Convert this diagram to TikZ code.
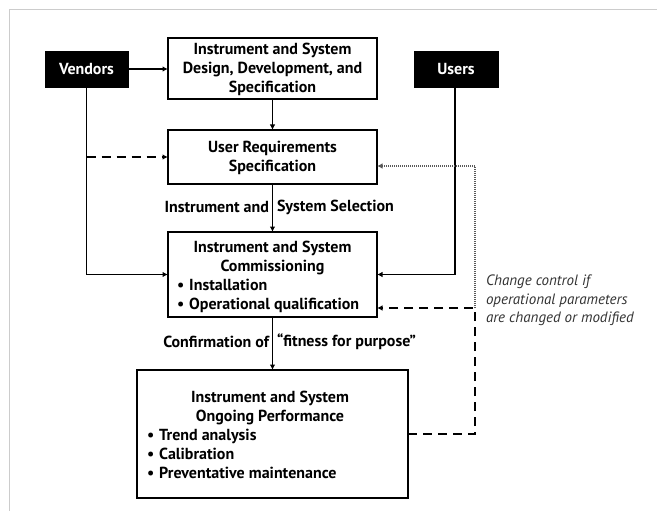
\documentclass[tikz,border=0pt]{standalone}
\usepackage{fontspec}
\setmainfont{PT Sans}
\usetikzlibrary{arrows.meta,calc}
\begin{document}
\begin{tikzpicture}[x=1pt,y=-1pt,
  every node/.style={inner sep=0pt, outer sep=0pt},
  txt/.style={font=\bfseries\fontsize{16}{19}\selectfont, align=center},
  blt/.style={font=\bfseries\fontsize{16}{19}\selectfont, align=left},
  box/.style={draw, line width=1.9pt, minimum width=209pt},
  bigbox/.style={draw, line width=2.8pt, minimum width=271pt, minimum height=128pt},
  blk/.style={fill=black, draw=black, text=white, minimum width=83pt, minimum height=36pt, font=\bfseries\fontsize{16}{19}\selectfont},
  conn/.style={line width=1.9pt, -{Latex[length=5.5pt,width=5.5pt]}},
  dsh/.style={conn, dash pattern=on 9pt off 6pt},
  dtd/.style={line width=1.1pt, dash pattern=on 1pt off 1pt, black!65, -{Latex[length=5.5pt,width=5.5pt]}},
  note/.style={font=\itshape\fontsize{15}{18.5}\selectfont, align=left, text=black!80}
]
\useasboundingbox (0,0) rectangle (657,511);
\draw[black!20, line width=1pt] (9.5,511) -- (9.5,9.5) -- (657,9.5);

\node[blk] (vend) at (86.5,69) {Vendors};
\node[blk, minimum width=84pt] (usr) at (456,69) {Users};
\node[box, minimum height=61pt] (des) at (272.5,68.5) {};
\node[txt] (destxt) at (272.5,69) {Instrument and System\\Design, Development, and\\Specification};
\node[box, minimum height=54pt] (urs) at (272.5,157) {};
\node[txt] (urstxt) at (272.5,157.5) {User Requirements\\Specification};
\node[box, minimum height=85pt] (comm) at (272.5,274.5) {};
\node[txt] (commtxt) at (272.5,257.5) {Instrument and System\\Commissioning};
\node[blt, anchor=west] (commbul) at (177,295.5) {\textbullet\hspace{5pt}Installation\\\textbullet\hspace{5pt}Operational qualification};
\node[bigbox] (perf) at (272.5,434) {};
\node[txt] (perftxt) at (270,407.5) {Instrument and System\\Ongoing Performance};
\node[blt, anchor=west] (perfbul) at (147,454) {\textbullet\hspace{5pt}Trend analysis\\\textbullet\hspace{5pt}Calibration\\\textbullet\hspace{5pt}Preventative maintenance};

\node[txt, anchor=east] (sel1) at (269,207) {Instrument and};
\node[txt, anchor=west] (sel2) at (277,207) {System Selection};
\node[txt, anchor=east] (fit1) at (269,342) {Confirmation of};
\node[txt, anchor=west] (fit2) at (277,342) {“fitness for purpose”};

\node[note, anchor=west] (chg) at (486,300.5) {Change control if\\operational parameters\\are changed or modified};

\coordinate (dc) at (475,308);

\draw[conn] (vend.east) -- (vend.east -| des.west);
\draw[conn] (des) -- (urs);
\draw[conn] (urs) -- (comm);
\draw[conn] (comm) -- (perf);
\draw[conn] (vend.south) |- (comm.west);
\draw[conn] ([xshift=-1pt]usr.south) |- (comm.east);
\draw[dsh] (vend.south |- urs.west) -- (urs.west);
\draw[dtd] (dc) |- ($(urs.east)+(0,9)$);
\draw[dsh] (perf.east) -| (dc) -- (comm.east |- dc);
\end{tikzpicture}
\end{document}
